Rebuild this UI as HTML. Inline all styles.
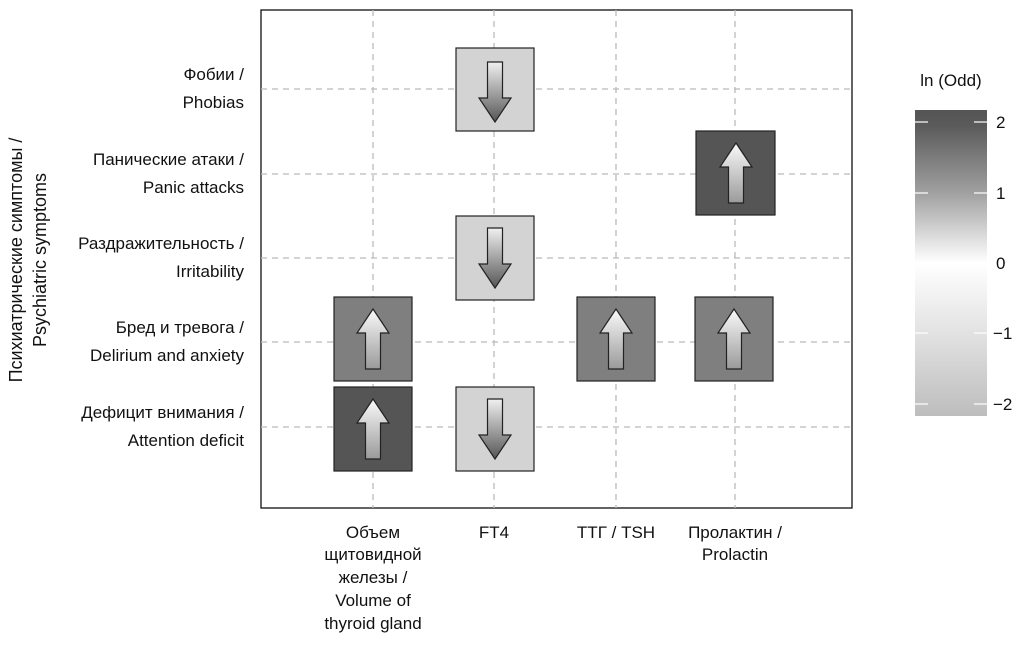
<!DOCTYPE html>
<html><head><meta charset="utf-8"><style>body{margin:0;background:#fff}</style></head><body>
<svg width="1024" height="644" xmlns="http://www.w3.org/2000/svg" font-family="'Liberation Sans','DejaVu Sans',sans-serif" font-size="17" fill="#111">
<defs>
<linearGradient id="up" x1="0" y1="0" x2="0" y2="1"><stop offset="0" stop-color="#fafafa"/><stop offset="1" stop-color="#9a9a9a"/></linearGradient>
<linearGradient id="dn" x1="0" y1="0" x2="0" y2="1"><stop offset="0" stop-color="#f0f0f0"/><stop offset="1" stop-color="#555"/></linearGradient>
<linearGradient id="cb" x1="0" y1="0" x2="0" y2="1">
<stop offset="0" stop-color="#555"/><stop offset="0.05" stop-color="#5a5a5a"/><stop offset="0.27" stop-color="#a0a0a0"/><stop offset="0.5" stop-color="#ffffff"/><stop offset="0.73" stop-color="#e2e2e2"/><stop offset="1" stop-color="#bdbdbd"/></linearGradient>
<g id="ua"><path d="M0,-30 L16,-6 L7.5,-6 L7.5,30 L-7.5,30 L-7.5,-6 L-16,-6 Z" fill="url(#up)" stroke="#222" stroke-width="1.2"/></g>
<g id="da"><path d="M0,30 L16,6 L7.5,6 L7.5,-30 L-7.5,-30 L-7.5,6 L-16,6 Z" fill="url(#dn)" stroke="#222" stroke-width="1.2"/></g>
</defs>
<rect x="261" y="10" width="591" height="498" fill="#fff" stroke="#111" stroke-width="1.3"/>
<g stroke="#bbb" stroke-width="1.3" stroke-dasharray="6,5">
<line x1="373" y1="10" x2="373" y2="508"/><line x1="494" y1="10" x2="494" y2="508"/><line x1="616" y1="10" x2="616" y2="508"/><line x1="735" y1="10" x2="735" y2="508"/>
<line x1="261" y1="89" x2="852" y2="89"/><line x1="261" y1="174" x2="852" y2="174"/><line x1="261" y1="258" x2="852" y2="258"/><line x1="261" y1="342" x2="852" y2="342"/><line x1="261" y1="427" x2="852" y2="427"/>
</g>
<g stroke="#222" stroke-width="1.2">
<rect x="456" y="48" width="78" height="83" fill="#d3d3d3"/>
<rect x="696" y="131" width="79" height="84" fill="#555"/>
<rect x="456" y="216" width="78" height="84" fill="#d3d3d3"/>
<rect x="334" y="297" width="78" height="84" fill="#7f7f7f"/>
<rect x="577" y="297" width="78" height="84" fill="#7f7f7f"/>
<rect x="695" y="297" width="78" height="84" fill="#7f7f7f"/>
<rect x="334" y="387" width="78" height="84" fill="#555"/>
<rect x="456" y="387" width="78" height="84" fill="#d3d3d3"/>
</g>
<use href="#da" x="495" y="92"/>
<use href="#ua" x="736" y="173"/>
<use href="#da" x="495" y="258"/>
<use href="#ua" x="373" y="339"/>
<use href="#ua" x="616" y="339"/>
<use href="#ua" x="734" y="339"/>
<use href="#ua" x="373" y="429"/>
<use href="#da" x="495" y="429"/>
<g text-anchor="end">
<text x="244" y="80">Фобии /</text><text x="244" y="108">Phobias</text>
<text x="244" y="165">Панические атаки /</text><text x="244" y="193">Panic attacks</text>
<text x="244" y="249">Раздражительность /</text><text x="244" y="277">Irritability</text>
<text x="244" y="333">Бред и тревога /</text><text x="244" y="361">Delirium and anxiety</text>
<text x="244" y="418">Дефицит внимания /</text><text x="244" y="446">Attention deficit</text>
</g>
<g text-anchor="middle">
<text x="373" y="538">Объем</text><text x="373" y="560">щитовидной</text><text x="373" y="583">железы /</text><text x="373" y="606">Volume of</text><text x="373" y="629">thyroid gland</text>
<text x="494" y="538">FT4</text>
<text x="616" y="538">ТТГ / TSH</text>
<text x="735" y="538">Пролактин /</text><text x="735" y="560">Prolactin</text>
</g>
<g transform="translate(22,260) rotate(-90)" text-anchor="middle" font-size="18">
<text x="0" y="0">Психиатрические симптомы /</text><text x="0" y="24">Psychiatric symptoms</text>
</g>
<text x="951" y="86" text-anchor="middle">ln (Odd)</text>
<rect x="915" y="110" width="72" height="306" fill="url(#cb)"/>
<g stroke="#fff" stroke-width="1.2">
<line x1="915" y1="122" x2="928" y2="122"/><line x1="974" y1="122" x2="987" y2="122"/>
<line x1="915" y1="193" x2="928" y2="193"/><line x1="974" y1="193" x2="987" y2="193"/>
<line x1="915" y1="263" x2="928" y2="263"/><line x1="974" y1="263" x2="987" y2="263"/>
<line x1="915" y1="333" x2="928" y2="333"/><line x1="974" y1="333" x2="987" y2="333"/>
<line x1="915" y1="404" x2="928" y2="404"/><line x1="974" y1="404" x2="987" y2="404"/>
</g>
<text x="996" y="128">2</text><text x="996" y="199">1</text><text x="996" y="269">0</text><text x="993" y="339">−1</text><text x="993" y="410">−2</text>
</svg>
</body></html>
